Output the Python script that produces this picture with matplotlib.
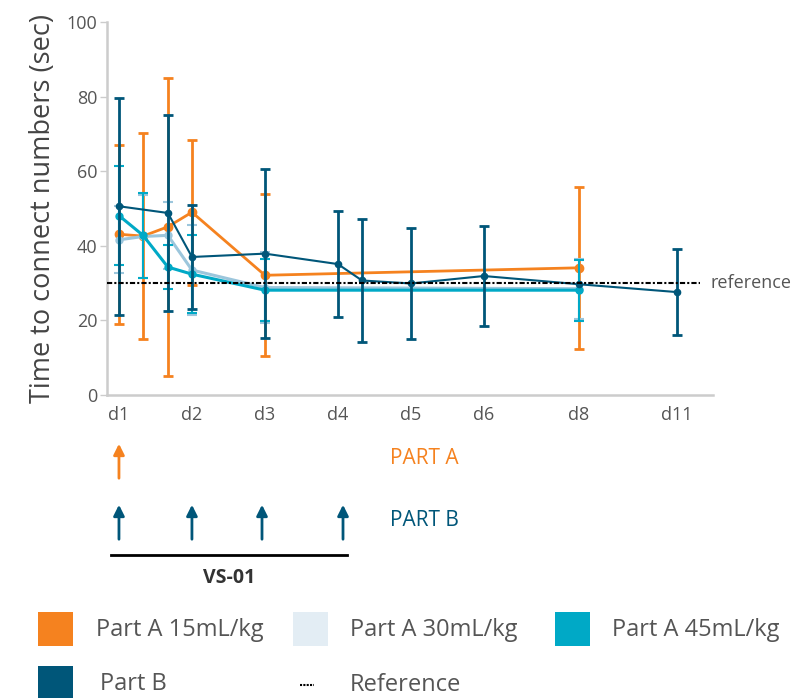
import numpy as np
import matplotlib
matplotlib.use("Agg")
import matplotlib.pyplot as plt
import matplotlib.transforms as mtransforms
from matplotlib.patches import Rectangle
from matplotlib.lines import Line2D

plt.rcParams['font.family'] = ['Open Sans', 'DejaVu Sans']

# x axis: day labels at uneven positions (d6 -> d8 -> d11 compressed)
tick_labels = ['d1', 'd2', 'd3', 'd4', 'd5', 'd6', 'd8', 'd11']
tick_pos = [0, 1, 2, 3, 4, 5, 6.30, 7.64]

# Part A 15mL/kg
x_a15 = [0, 0.33, 0.67, 1, 2, 6.30]
y_a15 = [43.1, 42.6, 45.1, 49.0, 32.1, 34.1]
e_a15 = [24.0, 27.7, 40.0, 19.4, 21.7, 21.7]

# Part A 30mL/kg
x_a30 = [0, 0.33, 0.67, 1, 2, 6.30]
y_a30 = [41.6, 42.5, 42.8, 33.5, 28.8, 28.5]
e_a30 = [9.0, 11.0, 9.0, 12.0, 9.5, 8.0]

# Part A 45mL/kg
x_a45 = [0, 0.33, 0.67, 1, 2, 6.30]
y_a45 = [48.1, 42.8, 34.3, 32.4, 28.1, 28.1]
e_a45 = [13.2, 11.3, 5.8, 10.4, 8.3, 8.2]

# Part B
x_b = [0, 0.67, 1, 2, 3, 3.33, 4, 5, 6.30, 7.64]
y_b = [50.6, 48.8, 37.0, 37.9, 35.1, 30.7, 29.9, 31.9, 29.7, 27.6]
e_b = [29.1, 26.2, 13.9, 22.6, 14.3, 16.5, 15.0, 13.3, np.nan, 11.6]

reference = 30

# dosing arrows
dose_a = [0]
dose_b = [0, 1, 1.96, 3.07]

c_a15 = '#f5821f'
c_a30 = '#9cc6dc'
c_a30_leg = '#e3edf4'
c_a45 = '#00a9c6'
c_b = '#005679'
grey = '#555555'

fig = plt.figure(figsize=(7.97, 6.98), dpi=100)
ax = fig.add_axes([107 / 797, 1 - 395 / 698, 606 / 797, 373 / 698])

ax.errorbar(x_a15, y_a15, yerr=e_a15, color=c_a15, lw=2, marker='o', ms=6,
            capsize=3.5, capthick=2, elinewidth=2, zorder=2)
ax.errorbar(x_a30, y_a30, yerr=e_a30, color=c_a30, lw=2.2, marker='o', ms=5,
            capsize=3.5, capthick=1.5, elinewidth=1.5, zorder=3)
ax.errorbar(x_a45, y_a45, yerr=e_a45, color=c_a45, lw=2.2, marker='o', ms=5,
            capsize=3.5, capthick=1.5, elinewidth=1.5, zorder=4)
ax.errorbar(x_b, y_b, yerr=e_b, color=c_b, lw=1.5, marker='o', ms=4.5,
            capsize=3.5, capthick=2, elinewidth=2, zorder=5)

ax.plot([-0.164, 7.96], [reference, reference], color='black', lw=1.5,
        ls=(0, (2.5, 1, 1, 1)), zorder=6, clip_on=False)
ax.text((710 - 107) / 606, reference, 'reference',
        transform=mtransforms.blended_transform_factory(ax.transAxes, ax.transData),
        fontsize=13, color=grey, va='center', ha='left')

ax.set_xlim(-0.164, 8.14)
ax.set_ylim(0, 100)
ax.set_yticks([0, 20, 40, 60, 80, 100])
ax.set_xticks(tick_pos)
ax.set_xticklabels(tick_labels)
for s in ['top', 'right']:
    ax.spines[s].set_visible(False)
for s in ['left', 'bottom']:
    ax.spines[s].set_color('#cccccc')
    ax.spines[s].set_linewidth(1.8)
ax.tick_params(axis='y', length=5, width=1, color='#cccccc', labelsize=13, labelcolor=grey, pad=2)
ax.tick_params(axis='x', length=0, labelsize=13, labelcolor=grey, pad=8)
ax.set_ylabel('Time to connect numbers (sec)', fontsize=19.5, color='#444444', labelpad=7)

# dosing schedule under the axis
trans = mtransforms.blended_transform_factory(ax.transData, fig.transFigure)
for x in dose_a:
    ax.annotate('', xy=(x, 1 - 441 / 698), xytext=(x, 1 - 481 / 698), xycoords=trans,
                textcoords=trans, annotation_clip=False,
                arrowprops=dict(arrowstyle='-|>', color=c_a15, lw=2, mutation_scale=16))
for x in dose_b:
    ax.annotate('', xy=(x, 1 - 502 / 698), xytext=(x, 1 - 542 / 698), xycoords=trans,
                textcoords=trans, annotation_clip=False,
                arrowprops=dict(arrowstyle='-|>', color=c_b, lw=2, mutation_scale=16))
fig.text(390 / 797, 1 - 458 / 698, 'PART A', color=c_a15, fontsize=15, va='center')
fig.text(390 / 797, 1 - 520 / 698, 'PART B', color=c_b, fontsize=15, va='center')
fig.add_artist(Line2D([111 / 797, 347 / 797], [1 - 555 / 698, 1 - 555 / 698], color='black', lw=2))
fig.text(229 / 797, 1 - 578 / 698, 'VS-01', color='#333333', fontsize=14, fontweight='bold',
         ha='center', va='center')

# legend drawn by hand
leg = [(38, 612, c_a15, 96, 'Part A 15mL/kg'),
       (293, 612, c_a30_leg, 350, 'Part A 30mL/kg'),
       (555, 612, c_a45, 612, 'Part A 45mL/kg'),
       (38, 666, c_b, 100, 'Part B')]
for px, py, col, tx, lab in leg:
    fig.add_artist(Rectangle((px / 797, 1 - (py + 34) / 698), 35 / 797, 34 / 698,
                             transform=fig.transFigure, color=col, lw=0))
    fig.text(tx / 797, 1 - (py + 18) / 698, lab, fontsize=17, color=grey, va='center')
fig.add_artist(Line2D([300 / 797, 314 / 797], [1 - 685 / 698, 1 - 685 / 698], color='black',
                      lw=1.5, ls=(0, (1, 0.6))))
fig.text(350 / 797, 1 - 685 / 698, 'Reference', fontsize=17, color=grey, va='center')

fig.savefig('out.png', dpi=100)
